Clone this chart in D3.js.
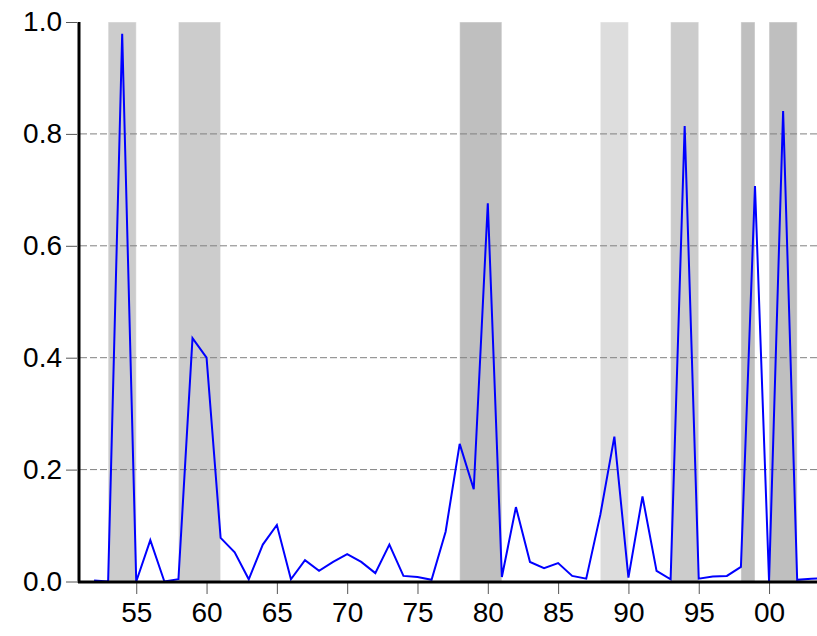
<!DOCTYPE html>
<html>
<head>
<meta charset="utf-8">
<script src="https://cdn.jsdelivr.net/npm/d3@7"></script>
<style>
  body { margin: 0; background: #fff; }
  svg { display: block; font-family: Arial, "Liberation Sans", sans-serif; }
</style>
</head>
<body>
<div id="chart"></div>
<script>
// annual series
const years = [1952, 1953, 1954, 1955, 1956, 1957, 1958, 1959, 1960, 1961,
  1962, 1963, 1964, 1965, 1966, 1967, 1968, 1969, 1970, 1971,
  1972, 1973, 1974, 1975, 1976, 1977, 1978, 1979, 1980, 1981,
  1982, 1983, 1984, 1985, 1986, 1987, 1988, 1989, 1990, 1991,
  1992, 1993, 1994, 1995, 1996, 1997, 1998, 1999, 2000, 2001,
  2002, 2003, 2004];
const values = [0.002, 0.000, 0.979, 0.000, 0.074, 0.000, 0.004, 0.435, 0.400, 0.078,
  0.052, 0.004, 0.066, 0.101, 0.004, 0.038, 0.019, 0.035, 0.049, 0.035,
  0.015, 0.066, 0.010, 0.008, 0.003, 0.089, 0.246, 0.165, 0.676, 0.008,
  0.133, 0.035, 0.024, 0.033, 0.010, 0.005, 0.119, 0.259, 0.007, 0.152,
  0.019, 0.004, 0.814, 0.005, 0.009, 0.010, 0.026, 0.707, 0.001, 0.841,
  0.003, 0.005, 0.006];

// shaded periods
const bandStart = [1953, 1958, 1978, 1988, 1993, 1998, 2000];
const bandEnd   = [1955, 1961, 1981, 1990, 1995, 1999, 2002];
const bandShade = ["#cccccc", "#cccccc", "#bfbfbf", "#dddddd", "#cccccc", "#bfbfbf", "#bfbfbf"];

const yTicks = [0, 0.2, 0.4, 0.6, 0.8, 1.0];
const xTicks = [1955, 1960, 1965, 1970, 1975, 1980, 1985, 1990, 1995, 2000];

const width = 817, height = 636;

const x = d3.scaleLinear().domain([1951, 2003.41]).range([80, 817]);
const y = d3.scaleLinear().domain([0, 1]).range([581.5, 22]);

const svg = d3.select("#chart")
  .append("svg")
    .attr("width", width)
    .attr("height", height);

svg.append("defs")
  .append("clipPath")
    .attr("id", "plot")
  .append("rect")
    .attr("x", 80).attr("y", 0)
    .attr("width", 737).attr("height", 600);

const bands = d3.range(bandStart.length).map(i => ({
  start: bandStart[i], end: bandEnd[i], fill: bandShade[i]
}));

// shading
svg.append("g")
  .attr("class", "bands")
  .selectAll("rect")
  .data(bands)
  .join("rect")
    .attr("x", d => x(d.start))
    .attr("y", y(1))
    .attr("width", d => x(d.end) - x(d.start))
    .attr("height", y(0) - y(1))
    .attr("fill", d => d.fill)
    .attr("stroke", "rgba(255,255,255,0.45)")
    .attr("stroke-width", 1);

// grid
svg.append("g")
  .attr("class", "grid")
  .selectAll("line")
  .data(yTicks.filter(t => t > 0 && t < 1))
  .join("line")
    .attr("x1", 80)
    .attr("x2", width)
    .attr("y1", d => y(d))
    .attr("y2", d => y(d))
    .attr("stroke", "#808080")
    .attr("stroke-width", 1)
    .attr("stroke-dasharray", "7,3");

// series
const line = d3.line()
  .x((d, i) => x(years[i]))
  .y(d => y(d));

svg.append("path")
  .datum(values)
  .attr("clip-path", "url(#plot)")
  .attr("fill", "none")
  .attr("stroke", "#0000ff")
  .attr("stroke-width", 2)
  .attr("stroke-linejoin", "miter")
  .attr("d", line);

// y axis
const yAxis = svg.append("g")
  .attr("transform", "translate(79,0)")
  .call(d3.axisLeft(y).tickValues(yTicks).tickFormat(d3.format(".1f")).tickSize(11).tickPadding(6));

yAxis.select(".domain").remove();
yAxis.selectAll(".tick line").attr("stroke", "#555").attr("transform", "translate(-2,0)");
yAxis.selectAll(".tick text")
  .attr("font-size", 28)
  .attr("fill", "#000")
  .attr("font-family", "Arial, 'Liberation Sans', sans-serif");

svg.append("line")
  .attr("x1", 79).attr("x2", 79)
  .attr("y1", y(1)).attr("y2", y(0) + 1.5)
  .attr("stroke", "#000").attr("stroke-width", 3);

// x axis
const xAxis = svg.append("g")
  .attr("transform", "translate(0,583)")
  .call(d3.axisBottom(x).tickValues(xTicks)
    .tickFormat(d => String(d % 100).padStart(2, "0"))
    .tickSize(11).tickPadding(8));

xAxis.select(".domain").remove();
xAxis.selectAll(".tick line").attr("stroke", "#555");
xAxis.selectAll(".tick text")
  .attr("font-size", 28)
  .attr("fill", "#000")
  .attr("font-family", "Arial, 'Liberation Sans', sans-serif");

svg.append("line")
  .attr("x1", 78).attr("x2", width)
  .attr("y1", y(0) + 0.5).attr("y2", y(0) + 0.5)
  .attr("stroke", "#000").attr("stroke-width", 3);
</script>
</body>
</html>
